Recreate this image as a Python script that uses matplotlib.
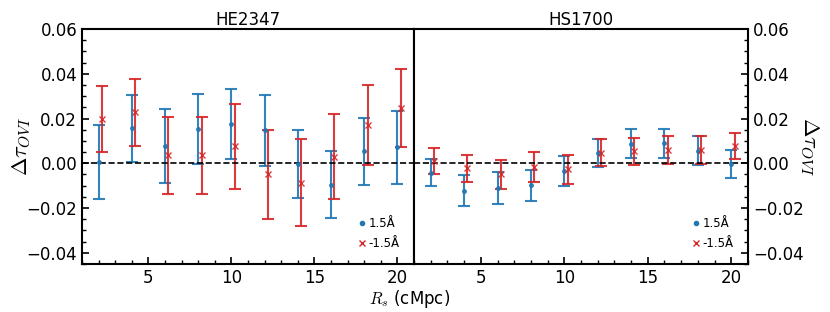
import numpy as np
import matplotlib
matplotlib.use("Agg")
import matplotlib.pyplot as plt
from matplotlib.lines import Line2D
from matplotlib.ticker import MultipleLocator

plt.rcParams['mathtext.fontset'] = 'cm'

# separation bins (cMpc)
r_bins = [2, 4, 6, 8, 10, 12, 14, 16, 18, 20]
fields = ["HE2347", "HS1700"]

# HE2347
he_pos = [0.0005, 0.0156, 0.0077, 0.0153, 0.0176, 0.0147, -0.0003, -0.0095, 0.0053, 0.0071]
he_pos_err = [0.0166, 0.0150, 0.0164, 0.0157, 0.0156, 0.0157, 0.0153, 0.0148, 0.0150, 0.0164]
he_neg = [0.0198, 0.0227, 0.0036, 0.0036, 0.0076, -0.0050, -0.0086, 0.0030, 0.0170, 0.0248]
he_neg_err = [0.0146, 0.0150, 0.0173, 0.0173, 0.0191, 0.0198, 0.0195, 0.0190, 0.0178, 0.0174]

# HS1700
hs_pos = [-0.0042, -0.0123, -0.0111, -0.0098, -0.0035, 0.0045, 0.0088, 0.0089, 0.0056, -0.0003]
hs_pos_err = [0.0060, 0.0069, 0.0070, 0.0070, 0.0067, 0.0063, 0.0063, 0.0064, 0.0064, 0.0062]
hs_neg = [0.0008, -0.0023, -0.0050, -0.0015, -0.0026, 0.0048, 0.0053, 0.0058, 0.0059, 0.0077]
hs_neg_err = [0.0058, 0.0059, 0.0066, 0.0067, 0.0065, 0.0060, 0.0062, 0.0063, 0.0063, 0.0060]

data = [(he_pos, he_pos_err, he_neg, he_neg_err),
        (hs_pos, hs_pos_err, hs_neg, hs_neg_err)]

blue = '#1f77b4'
red = '#d62728'

fig = plt.figure(figsize=(8.3, 3.12), dpi=100)
ax1 = fig.add_axes([0.0988, 0.154, 0.400, 0.753])
ax2 = fig.add_axes([0.4988, 0.154, 0.4024, 0.753])

r = np.array(r_bins, dtype=float)
for i, (ax, name) in enumerate(zip([ax1, ax2], fields)):
    pos, pos_err, neg, neg_err = data[i]
    ax.errorbar(r, pos, yerr=pos_err, fmt='.', color=blue, ms=5,
                capsize=4, elinewidth=1.5, capthick=1.5, alpha=0.9)
    ax.errorbar(r + 0.2, neg, yerr=neg_err, fmt='x', color=red, ms=5,
                capsize=4, elinewidth=1.5, capthick=1.5, alpha=0.9)
    ax.axhline(0, color='k', ls='--', lw=1.2)
    ax.set_xlim(1, 21)
    ax.set_ylim(-0.045, 0.06)
    ax.set_title(name, fontsize=12, pad=3)
    ax.xaxis.set_major_locator(MultipleLocator(5))
    ax.xaxis.set_minor_locator(MultipleLocator(1))
    ax.yaxis.set_major_locator(MultipleLocator(0.02))
    ax.yaxis.set_minor_locator(MultipleLocator(0.005))
    ax.tick_params(which='both', direction='in', labelsize=12)
    ax.tick_params(which='major', length=5, width=1.2)
    ax.tick_params(which='minor', length=3, width=1)
    for s in ax.spines.values():
        s.set_linewidth(1.5)
    handles = [Line2D([], [], ls='none', marker='.', color=blue, ms=6),
               Line2D([], [], ls='none', marker='x', color=red, ms=5)]
    ax.legend(handles, ['1.5Å', '-1.5Å'], loc='lower right', frameon=False,
              fontsize=8.5, handlelength=0.6, handletextpad=0.3,
              borderaxespad=0.8, labelspacing=0.6)

ax1.tick_params(which='both', left=True, right=False)
ax1.set_ylabel(r'$\Delta\tau_{OVI}$', fontsize=16, labelpad=-5)
ax2.yaxis.tick_right()
ax2.yaxis.set_label_position('right')
ax2.tick_params(which='both', left=False, right=True)
ax2.set_ylabel(r'$\Delta\tau_{OVI}$', fontsize=16, rotation=270, labelpad=12)

fig.text(0.494, 0.078, r'$R_s$ (cMpc)', ha='center', va='top', fontsize=12)

fig.savefig("out.png", dpi=100)
